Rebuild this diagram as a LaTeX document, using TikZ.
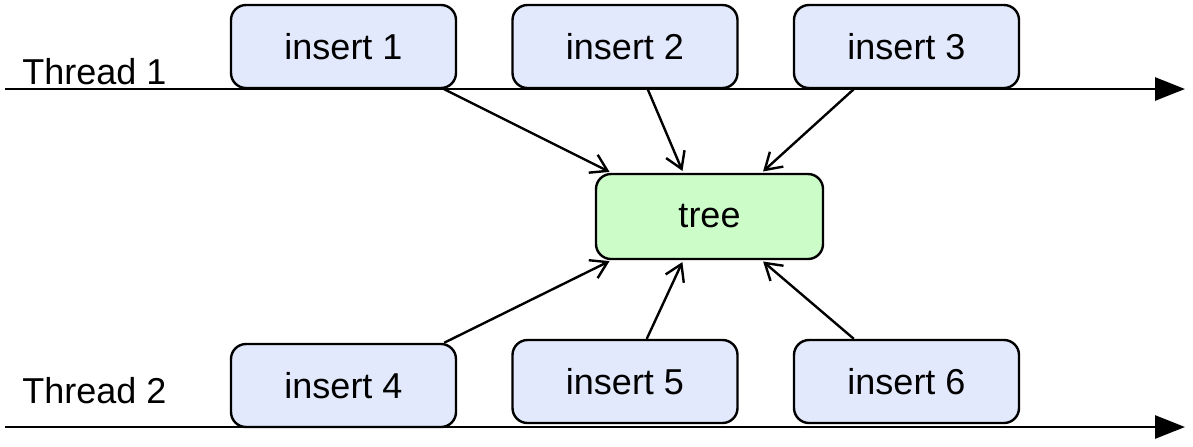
\documentclass[tikz,border=0pt]{standalone}
\usepackage{fontspec}
\setmainfont{Liberation Sans}
\usetikzlibrary{arrows.meta}

\begin{document}
\begin{tikzpicture}[x=0.5pt,y=-0.5pt,
  op/.style={draw,line width=1.2pt,rounded corners=7.5pt,fill=insblue,minimum width=112.5pt,minimum height=41.5pt,inner sep=0pt,font=\fontsize{18}{22}\selectfont},
  core/.style={op,fill=treegreen,minimum width=113.5pt,minimum height=42.5pt},
  thread/.style={line width=1.4pt,-{Triangle[length=15pt,width=11.5pt]}},
  lbl/.style={anchor=base west,inner sep=0pt,font=\fontsize{18}{22}\selectfont},
  upd/.style={->,>={Straight Barb[length=8pt,width=10pt]},line width=1.2pt,shorten >=1pt}]
  \definecolor{insblue}{HTML}{E3E9FC}
  \definecolor{treegreen}{HTML}{CCFCC8}
  \useasboundingbox (0,0) rectangle (1193,446);

  \coordinate (t1a) at (5,89);
  \coordinate (t1b) at (1185,89);
  \coordinate (t2a) at (5,427);
  \coordinate (t2b) at (1185,427);
  \draw[thread] (t1a) -- (t1b);
  \draw[thread] (t2a) -- (t2b);
  \node[lbl] (l1) at (22,84) {Thread 1};
  \node[lbl] (l2) at (22,403) {Thread 2};

  \node[op] (i1) at (343.5,46.5) {insert 1};
  \node[op] (i2) at (625,46.5) {insert 2};
  \node[op] (i3) at (906.5,46.5) {insert 3};
  \node[op] (i4) at (343.5,385.5) {insert 4};
  \node[op] (i5) at (625,381.5) {insert 5};
  \node[op] (i6) at (906.5,381.5) {insert 6};

  \node[core] (tree) at (709.5,216.5) {tree};

  \draw[upd] (i1.-23.9) -- (tree.156.7);
  \draw[upd] (i2.-62.1) -- (tree.121.9);
  \draw[upd] (i3.-141.1) -- (tree.40.1);
  \draw[upd] (i4.23.9) -- (tree.-156.7);
  \draw[upd] (i5.63.2) -- (tree.-121.9);
  \draw[upd] (i6.141.1) -- (tree.-40.1);
\end{tikzpicture}
\end{document}
